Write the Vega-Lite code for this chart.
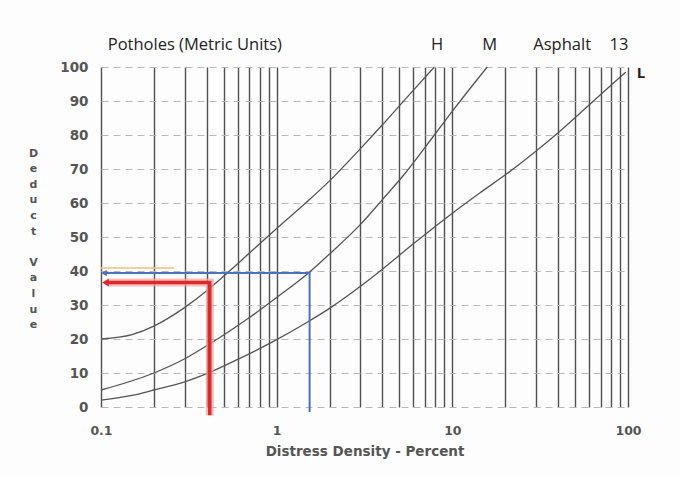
{
  "$schema": "https://vega.github.io/schema/vega-lite/v6.json",
  "width": 527,
  "height": 340,
  "autosize": {"type": "none"},
  "padding": {"left": 101, "top": 67, "right": 52, "bottom": 70},
  "background": "#fdfdfd",
  "config": {"view": {"stroke": null}},
  "datasets": {
    "curves": [
      {"series": "H", "x": 0.1, "y": 20},
      {"series": "H", "x": 0.15, "y": 21.3},
      {"series": "H", "x": 0.2, "y": 23.8},
      {"series": "H", "x": 0.3, "y": 29.3},
      {"series": "H", "x": 0.4, "y": 34.2},
      {"series": "H", "x": 0.5, "y": 38.5},
      {"series": "H", "x": 0.7, "y": 45.3},
      {"series": "H", "x": 1.0, "y": 52.5},
      {"series": "H", "x": 1.5, "y": 60.5},
      {"series": "H", "x": 2.0, "y": 66.5},
      {"series": "H", "x": 3.0, "y": 76},
      {"series": "H", "x": 4.0, "y": 83},
      {"series": "H", "x": 5.5, "y": 91},
      {"series": "H", "x": 7.9, "y": 100},
      {"series": "M", "x": 0.1, "y": 5},
      {"series": "M", "x": 0.2, "y": 10},
      {"series": "M", "x": 0.3, "y": 14.2},
      {"series": "M", "x": 0.47, "y": 20.3},
      {"series": "M", "x": 0.7, "y": 26.3},
      {"series": "M", "x": 1.0, "y": 32.2},
      {"series": "M", "x": 1.5, "y": 39.2},
      {"series": "M", "x": 2.0, "y": 45},
      {"series": "M", "x": 3.0, "y": 53.7},
      {"series": "M", "x": 4.0, "y": 61},
      {"series": "M", "x": 5.3, "y": 68.3},
      {"series": "M", "x": 7.9, "y": 80},
      {"series": "M", "x": 10, "y": 87},
      {"series": "M", "x": 15.8, "y": 100},
      {"series": "L", "x": 0.1, "y": 2},
      {"series": "L", "x": 0.15, "y": 3.4},
      {"series": "L", "x": 0.2, "y": 5},
      {"series": "L", "x": 0.3, "y": 7.4},
      {"series": "L", "x": 0.4, "y": 9.8},
      {"series": "L", "x": 0.6, "y": 14},
      {"series": "L", "x": 1.0, "y": 19.8},
      {"series": "L", "x": 1.5, "y": 25},
      {"series": "L", "x": 2.0, "y": 29},
      {"series": "L", "x": 3.0, "y": 35.5},
      {"series": "L", "x": 4.0, "y": 40.5},
      {"series": "L", "x": 6.0, "y": 48},
      {"series": "L", "x": 8.4, "y": 54},
      {"series": "L", "x": 10, "y": 57},
      {"series": "L", "x": 14.2, "y": 62.8},
      {"series": "L", "x": 20.3, "y": 68.5},
      {"series": "L", "x": 30, "y": 75.3},
      {"series": "L", "x": 40.5, "y": 80.9},
      {"series": "L", "x": 68.4, "y": 91.5},
      {"series": "L", "x": 97, "y": 98.5}
    ],
    "red": [
      {"i": 0, "x": 0.416, "y": -2.4},
      {"i": 1, "x": 0.416, "y": 36.6},
      {"i": 2, "x": 0.108, "y": 36.6}
    ],
    "blue": [
      {"i": 0, "x": 1.54, "y": -1.5},
      {"i": 1, "x": 1.54, "y": 39.4},
      {"i": 2, "x": 0.105, "y": 39.4}
    ],
    "orange": [
      {"i": 0, "x": 0.1, "y": 40.9},
      {"i": 1, "x": 0.26, "y": 40.9}
    ],
    "redArrow": [{"x": 0.106, "y": 36.6}],
    "blueArrow": [{"x": 0.104, "y": 39.4}],
    "labels": [
      {"text": "Potholes (Metric Units)", "x": 0.342, "y": 106.5},
      {"text": "H", "x": 8.2, "y": 106.5},
      {"text": "M", "x": 16.3, "y": 106.5},
      {"text": "Asphalt", "x": 42.2, "y": 106.5},
      {"text": "13", "x": 88.9, "y": 106.5}
    ],
    "lLabel": [{"text": "L", "x": 118.6, "y": 98.2}]
  },
  "encoding": {
    "x": {
      "field": "x",
      "type": "quantitative",
      "scale": {"type": "log", "domain": [0.1, 100], "nice": false},
      "axis": {
        "values": [0.1, 0.2, 0.3, 0.4, 0.5, 0.6, 0.7, 0.8, 0.9, 1, 2, 3, 4, 5, 6, 7, 8, 9, 10, 20, 30, 40, 50, 60, 70, 80, 90, 100],
        "labelExpr": "indexof([0.1, 1, 10, 100], datum.value) >= 0 ? format(datum.value, '~g') : ''",
        "labelFlush": false,
        "labelOverlap": false,
        "grid": true,
        "gridColor": "#505050",
        "gridWidth": 1.4,
        "gridOpacity": 1,
        "ticks": false,
        "tickSize": 0,
        "domain": false,
        "labelPadding": 17,
        "labelFont": "DejaVu Sans",
        "labelFontWeight": "bold",
        "labelFontSize": 12.5,
        "labelColor": "#555555",
        "title": "Distress Density - Percent",
        "titleFont": "DejaVu Sans",
        "titleFontWeight": "bold",
        "titleFontSize": 13.5,
        "titleColor": "#555555",
        "titleY": 44,
        "titleBaseline": "middle"
      }
    },
    "y": {
      "field": "y",
      "type": "quantitative",
      "scale": {"domain": [0, 100], "nice": false, "zero": false},
      "axis": {
        "values": [0, 10, 20, 30, 40, 50, 60, 70, 80, 90, 100],
        "grid": true,
        "gridColor": "#b8b8b8",
        "gridDash": [7, 5],
        "gridWidth": 1,
        "ticks": false,
        "tickSize": 0,
        "domain": false,
        "labelPadding": 13,
        "labelFont": "DejaVu Sans",
        "labelFontWeight": "bold",
        "labelFontSize": 13.5,
        "labelColor": "#555555",
        "title": ["D", "e", "d", "u", "c", "t", "\u2800", "V", "a", "l", "u", "e"],
        "titleAngle": 0,
        "titleAlign": "center",
        "titleBaseline": "middle",
        "titleX": -68,
        "titleY": 86,
        "titleLineHeight": 15.6,
        "titleFont": "DejaVu Sans",
        "titleFontWeight": "bold",
        "titleFontSize": 11,
        "titleColor": "#555555"
      }
    }
  },
  "layer": [
    {
      "data": {"name": "orange"},
      "mark": {"type": "line", "color": "#f5c47e", "strokeWidth": 2, "opacity": 0.8},
      "encoding": {"order": {"field": "i", "type": "quantitative"}}
    },
    {
      "data": {"name": "curves"},
      "mark": {"type": "line", "color": "#555555", "strokeWidth": 1.3, "interpolate": "monotone"},
      "encoding": {"detail": {"field": "series", "type": "nominal"}}
    },
    {
      "data": {"name": "red"},
      "mark": {"type": "line", "color": "#f2a3a3", "strokeWidth": 8, "opacity": 0.7},
      "encoding": {"order": {"field": "i", "type": "quantitative"}}
    },
    {
      "data": {"name": "red"},
      "mark": {"type": "line", "color": "#e02828", "strokeWidth": 3.5},
      "encoding": {"order": {"field": "i", "type": "quantitative"}}
    },
    {
      "data": {"name": "blue"},
      "mark": {"type": "line", "color": "#4d72bd", "strokeWidth": 2},
      "encoding": {"order": {"field": "i", "type": "quantitative"}}
    },
    {
      "data": {"name": "redArrow"},
      "mark": {"type": "point", "shape": "triangle-left", "filled": true, "color": "#e02828", "size": 60, "opacity": 1}
    },
    {
      "data": {"name": "blueArrow"},
      "mark": {"type": "point", "shape": "triangle-left", "filled": true, "color": "#4d72bd", "size": 40, "opacity": 1}
    },
    {
      "data": {"name": "labels"},
      "mark": {"type": "text", "font": "Open Sans", "fontSize": 16.5, "color": "#222222", "align": "center", "baseline": "middle"},
      "encoding": {"text": {"field": "text", "type": "nominal"}}
    },
    {
      "data": {"name": "lLabel"},
      "mark": {"type": "text", "font": "Open Sans", "fontSize": 15, "fontWeight": "bold", "color": "#222222", "align": "center", "baseline": "middle"},
      "encoding": {"text": {"field": "text", "type": "nominal"}}
    }
  ]
}
